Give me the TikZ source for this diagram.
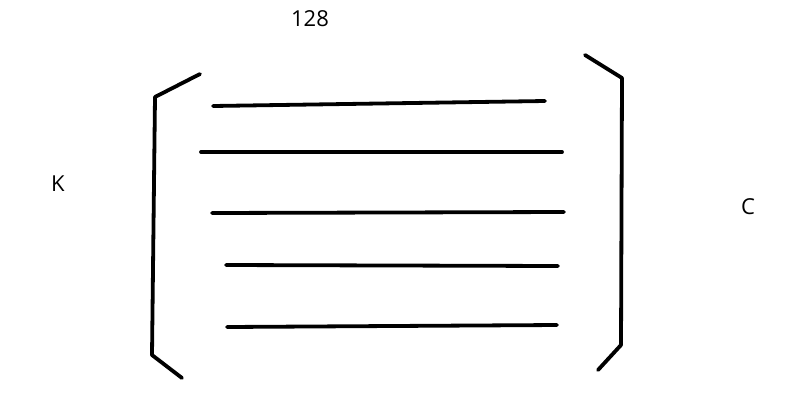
\documentclass[tikz,border=0pt]{standalone}
\usepackage{fontspec}
\setmainfont{Open Sans}
\begin{document}
\begin{tikzpicture}[x=1pt,y=-1pt,
  stroke/.style={line width=3.8pt, line cap=round, line join=round, black},
  lbl/.style={font=\fontsize{22}{26}\selectfont, inner sep=0pt}]
\useasboundingbox[fill=white] (0,0) rectangle (802,410);
% brackets
\draw[stroke] (200,74) -- (155,97) -- (152,355) -- (182,378);
\draw[stroke] (585,55) -- (622,78) -- (621,345) -- (598,370);
% lines
\draw[stroke] (213,106) -- (545,101);
\draw[stroke] (201,152) -- (562,152);
\draw[stroke] (212,213) -- (564,212);
\draw[stroke] (226,265) -- (558,266);
\draw[stroke] (227,327) -- (557,325);
% labels
\node[lbl] (top) at (310,19) {128};
\node[lbl] (k) at (58,184) {K};
\node[lbl] (c) at (748,207) {C};
\end{tikzpicture}
\end{document}
